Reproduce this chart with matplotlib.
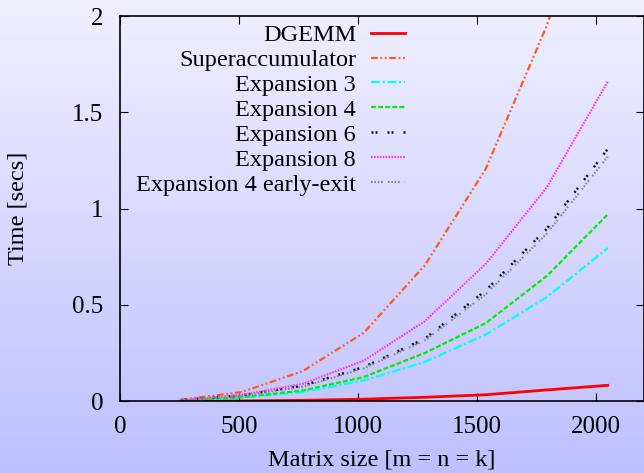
import numpy as np
import matplotlib.pyplot as plt

plt.rcParams['font.family'] = ['Liberation Serif', 'DejaVu Serif']

sizes = [256, 512, 768, 1024, 1280, 1536, 1792, 2048]

dgemm = [0.0, 0.001, 0.004, 0.010, 0.020, 0.033, 0.058, 0.082]
superacc = [0.007, 0.047, 0.156, 0.355, 0.705, 1.207, 1.95, 2.9]
exp3 = [0.002, 0.017, 0.047, 0.107, 0.203, 0.346, 0.54, 0.795]
exp4 = [0.003, 0.020, 0.055, 0.125, 0.25, 0.405, 0.65, 0.97]
exp6 = [0.005, 0.030, 0.080, 0.177, 0.324, 0.575, 0.895, 1.31]
exp8 = [0.005, 0.032, 0.090, 0.21, 0.415, 0.713, 1.11, 1.66]
exp4_ee = [0.004, 0.028, 0.075, 0.170, 0.315, 0.555, 0.87, 1.27]

fig = plt.figure(figsize=(6.44, 4.73), dpi=100)

# background gradient
bg = fig.add_axes([0, 0, 1, 1], zorder=-10)
grad = np.linspace(0, 1, 256).reshape(-1, 1)
top = np.array([0.94, 0.94, 1.0])
bot = np.array([0.75, 0.75, 1.0])
img = top + (bot - top) * grad[:, :, None]
bg.imshow(img, aspect='auto', extent=[0, 1, 0, 1])
bg.axis('off')

ax = fig.add_axes([0.186, 0.152, 0.814, 0.814])
ax.patch.set_alpha(0)

ax.plot(sizes, dgemm, color='#ff0000', lw=2.0, label='DGEMM')
ax.plot(sizes, superacc, color='#ff5a1a', lw=1.6, dashes=[3, 1.2, 0.8, 1.2, 0.8, 1.2], label='Superaccumulator')
ax.plot(sizes, exp3, color='#00ffff', lw=1.6, dashes=[4, 1.2, 1, 1.2], label='Expansion 3')
ax.plot(sizes, exp4, color='#00ee00', lw=1.6, dashes=[2.2, 1], label='Expansion 4')
ax.plot(sizes, exp6, color='#111111', lw=1.8, dashes=[0.8, 0.8, 0.8, 4], label='Expansion 6')
ax.plot(sizes, exp8, color='#ff33ff', lw=1.5, dashes=[0.8, 0.6], label='Expansion 8')
ax.plot(sizes, exp4_ee, color='#888888', lw=1.5, dashes=[0.8, 0.8, 0.8, 0.8, 0.8, 0.8, 0.8, 2.5], label='Expansion 4 early-exit')

ax.set_xlim(0, 2200)
ax.set_ylim(0, 2)
ax.set_xticks([0, 500, 1000, 1500, 2000])
ax.set_yticks([0, 0.5, 1, 1.5, 2])
ax.set_yticklabels(['0', '0.5', '1', '1.5', '2'])
ax.tick_params(direction='in', top=True, right=True, length=6, labelsize=18)
ax.tick_params(axis='y', pad=12)
ax.tick_params(axis='x', pad=11)
for s in ax.spines.values():
    s.set_linewidth(1.2)

ax.set_xlabel('Matrix size [m = n = k]', fontsize=17.5, va='center')
ax.set_ylabel('Time [secs]', fontsize=17.5, va='center')
ax.xaxis.set_label_coords(0.5, -0.153)
ax.yaxis.set_label_coords(-0.195, 0.5)

ax.legend(loc='upper right', bbox_to_anchor=(0.555, 0.995), frameon=False, markerfirst=False,
          fontsize=17.5, handlelength=1.4, labelspacing=0.12, borderaxespad=0.0,
          borderpad=0.25, handletextpad=0.6)

plt.savefig('out.png', dpi=100)
